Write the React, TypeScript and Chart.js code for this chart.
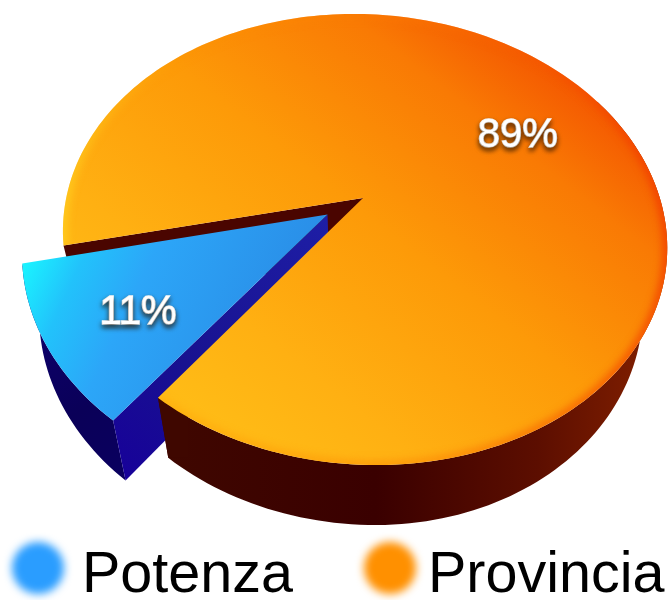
import React, { useEffect, useRef } from "react";
import { Chart, registerables } from "chart.js";

Chart.register(...registerables);

const categories = ["Potenza", "Provincia"];
const values = [11, 89];
const legendColors = ["#2a9dff", "#ff9000"];
const explode = [0.142, 0];
const labelRadius = [0.697, 0.67];
const labelBaseline = [21, 21];
const legendDotX = [38, 390];
const legendTextX = [82, 428];

// Perspective of the disc (plane coordinates are a unit circle).
const CX = 363, Y0 = 198, A = 296.8, B = 217.9, P = 0.184, SHEAR = 0.05;
const DEPTH = 60, TAPER_LEFT = 0.05, TAPER_RIGHT = 0.08;

const project = (u: number, v: number): [number, number] => {
  const w = 1 - P * v;
  const y = Y0 + (B * v) / w;
  return [CX + (A * u) / w + SHEAR * (y - Y0), y];
};
const lower = (p: [number, number]): [number, number] => [
  p[0] + (CX - p[0]) * (p[0] < CX ? TAPER_LEFT : TAPER_RIGHT),
  p[1] + DEPTH,
];

const arcPoints = (start: number, end: number, ox: number, oy: number) => {
  const pts: [number, number][] = [];
  const n = Math.max(8, Math.ceil(Math.abs(end - start) * 40));
  for (let i = 0; i <= n; i++) {
    const a = start + ((end - start) * i) / n;
    pts.push(project(ox + Math.cos(a), oy + Math.sin(a)));
  }
  return pts;
};

const tracePoly = (ctx: CanvasRenderingContext2D, pts: [number, number][]) => {
  ctx.beginPath();
  pts.forEach((p, i) => (i ? ctx.lineTo(p[0], p[1]) : ctx.moveTo(p[0], p[1])));
};
const fillPoly = (ctx: CanvasRenderingContext2D, pts: [number, number][], fill: any) => {
  tracePoly(ctx, pts);
  ctx.closePath();
  ctx.fillStyle = fill;
  ctx.fill();
};

const lin = (ctx: CanvasRenderingContext2D, x0: number, y0: number, x1: number, y1: number, stops: [number, string][]) => {
  const g = ctx.createLinearGradient(x0, y0, x1, y1);
  stops.forEach(([o, c]) => g.addColorStop(o, c));
  return g;
};

const pie3d = {
  id: "pie3d",
  beforeDatasetDraw(chart: any) {
    const ctx: CanvasRenderingContext2D = chart.ctx;
    const els = chart.getDatasetMeta(0).data;
    const geo = els.map((el: any, i: number) => {
      const { startAngle, endAngle } = el.getProps(["startAngle", "endAngle"], true);
      const mid = (startAngle + endAngle) / 2;
      return { startAngle, endAngle, mid, ox: explode[i] * Math.cos(mid), oy: explode[i] * Math.sin(mid) };
    });
    const [b, o] = geo;

    // Orange: cut wall behind the blue slice
    const oTop = arcPoints(o.startAngle, o.endAngle, 0, 0);
    const oApex = project(0, 0);
    fillPoly(ctx, [oApex, oTop[0], lower(oTop[0]), lower(oApex)], "#4a0500");

    // Blue slice
    const bTop = arcPoints(b.startAngle, b.endAngle, b.ox, b.oy);
    const bApex = project(b.ox, b.oy);
    const bCorner = bTop[0];
    fillPoly(ctx, [...bTop, ...bTop.map(lower).reverse()],
      lin(ctx, 20, 300, 130, 480, [[0, "#0d0070"], [0.6, "#0a0058"], [1, "#0a0060"]]));
    fillPoly(ctx, [bApex, bCorner, lower(bCorner), lower(bApex)],
      lin(ctx, 328, 215, 115, 480, [[0, "#1e1ea6"], [0.6, "#181290"], [1, "#17009a"]]));
    const bPath = [bApex, ...bTop];
    fillPoly(ctx, bPath, lin(ctx, 25, 265, 250, 370, [[0, "#1af2ff"], [0.2, "#22c2fb"], [0.45, "#2ca6f8"], [1, "#2a8fe8"]]));

    // Orange: near wall + top face (in front of the blue wall)
    const near = arcPoints(o.endAngle - (157 * Math.PI) / 180, o.endAngle, 0, 0);
    fillPoly(ctx, [...near, ...near.map(lower).reverse()],
      lin(ctx, 168, 0, 630, 0, [[0, "#3f0700"], [0.45, "#3a0000"], [0.8, "#5c0e00"], [1, "#7a1c00"]]));
    const corner = oTop[oTop.length - 1];
    fillPoly(ctx, [corner, lower(corner), [corner[0] + 30, lower(corner)[1]], [corner[0] + 30, corner[1]]], "#3f0700");

    const oPath: [number, number][] = [oApex, ...oTop];
    fillPoly(ctx, oPath, lin(ctx, 575, 45, 250, 460, [[0, "#f24c00"], [0.22, "#f97a04"], [0.5, "#fd9a08"], [0.8, "#ffb012"], [1, "#ffbc16"]]));

    // Soft rim light on the top face
    ctx.save();
    tracePoly(ctx, oPath);
    ctx.closePath();
    ctx.clip();
    ctx.filter = "blur(4px)";
    tracePoly(ctx, oTop);
    ctx.lineWidth = 7;
    ctx.strokeStyle = lin(ctx, 60, 0, 665, 0, [[0, "rgba(255,225,40,0.7)"], [0.2, "rgba(255,150,0,0.4)"], [0.6, "rgba(252,120,0,0.6)"], [1, "rgba(240,50,0,0.9)"]]);
    ctx.stroke();
    ctx.restore();

    // Percent labels
    ctx.save();
    ctx.font = "40px 'Liberation Sans'";
    ctx.textAlign = "center";
    ctx.textBaseline = "alphabetic";
    geo.forEach((g: any, i: number) => {
      const [x, y] = project(g.ox + labelRadius[i] * Math.cos(g.mid), g.oy + labelRadius[i] * Math.sin(g.mid));
      ctx.shadowColor = "rgba(40,20,0,0.75)";
      ctx.shadowBlur = 5;
      ctx.shadowOffsetY = 3;
      ctx.fillStyle = "#ffffff";
      ctx.strokeStyle = "#ffffff";
      ctx.lineWidth = 1.5;
      ctx.strokeText(`${values[i]}%`, x, y + labelBaseline[i]);
      ctx.fillText(`${values[i]}%`, x, y + labelBaseline[i]);
    });
    ctx.restore();

    // Legend
    ctx.save();
    categories.forEach((t, i) => {
      ctx.save();
      ctx.filter = "blur(4px)";
      ctx.fillStyle = legendColors[i];
      ctx.beginPath();
      ctx.arc(legendDotX[i], 568, 26, 0, Math.PI * 2);
      ctx.fill();
      ctx.restore();
      ctx.fillStyle = "#000000";
      ctx.font = "57.5px 'Liberation Sans'";
      ctx.textAlign = "left";
      ctx.textBaseline = "alphabetic";
      ctx.fillText(t, legendTextX[i], 592);
    });
    ctx.restore();
    return false;
  },
};

export default function App() {
  const ref = useRef<HTMLCanvasElement>(null);
  useEffect(() => {
    document.body.style.margin = "0";
    const chart = new Chart(ref.current!, {
      type: "pie",
      data: { labels: categories, datasets: [{ data: values, backgroundColor: legendColors, borderWidth: 0 }] },
      plugins: [pie3d],
      options: {
        responsive: false,
        animation: false,
        rotation: 218.3,
        layout: { padding: 0 },
        plugins: {
          tooltip: { enabled: false },
          legend: { display: false },
        },
      } as any,
    });
    return () => chart.destroy();
  }, []);
  return <canvas ref={ref} width={669} height={600} style={{ display: "block", filter: "blur(0.5px)" }} />;
}
